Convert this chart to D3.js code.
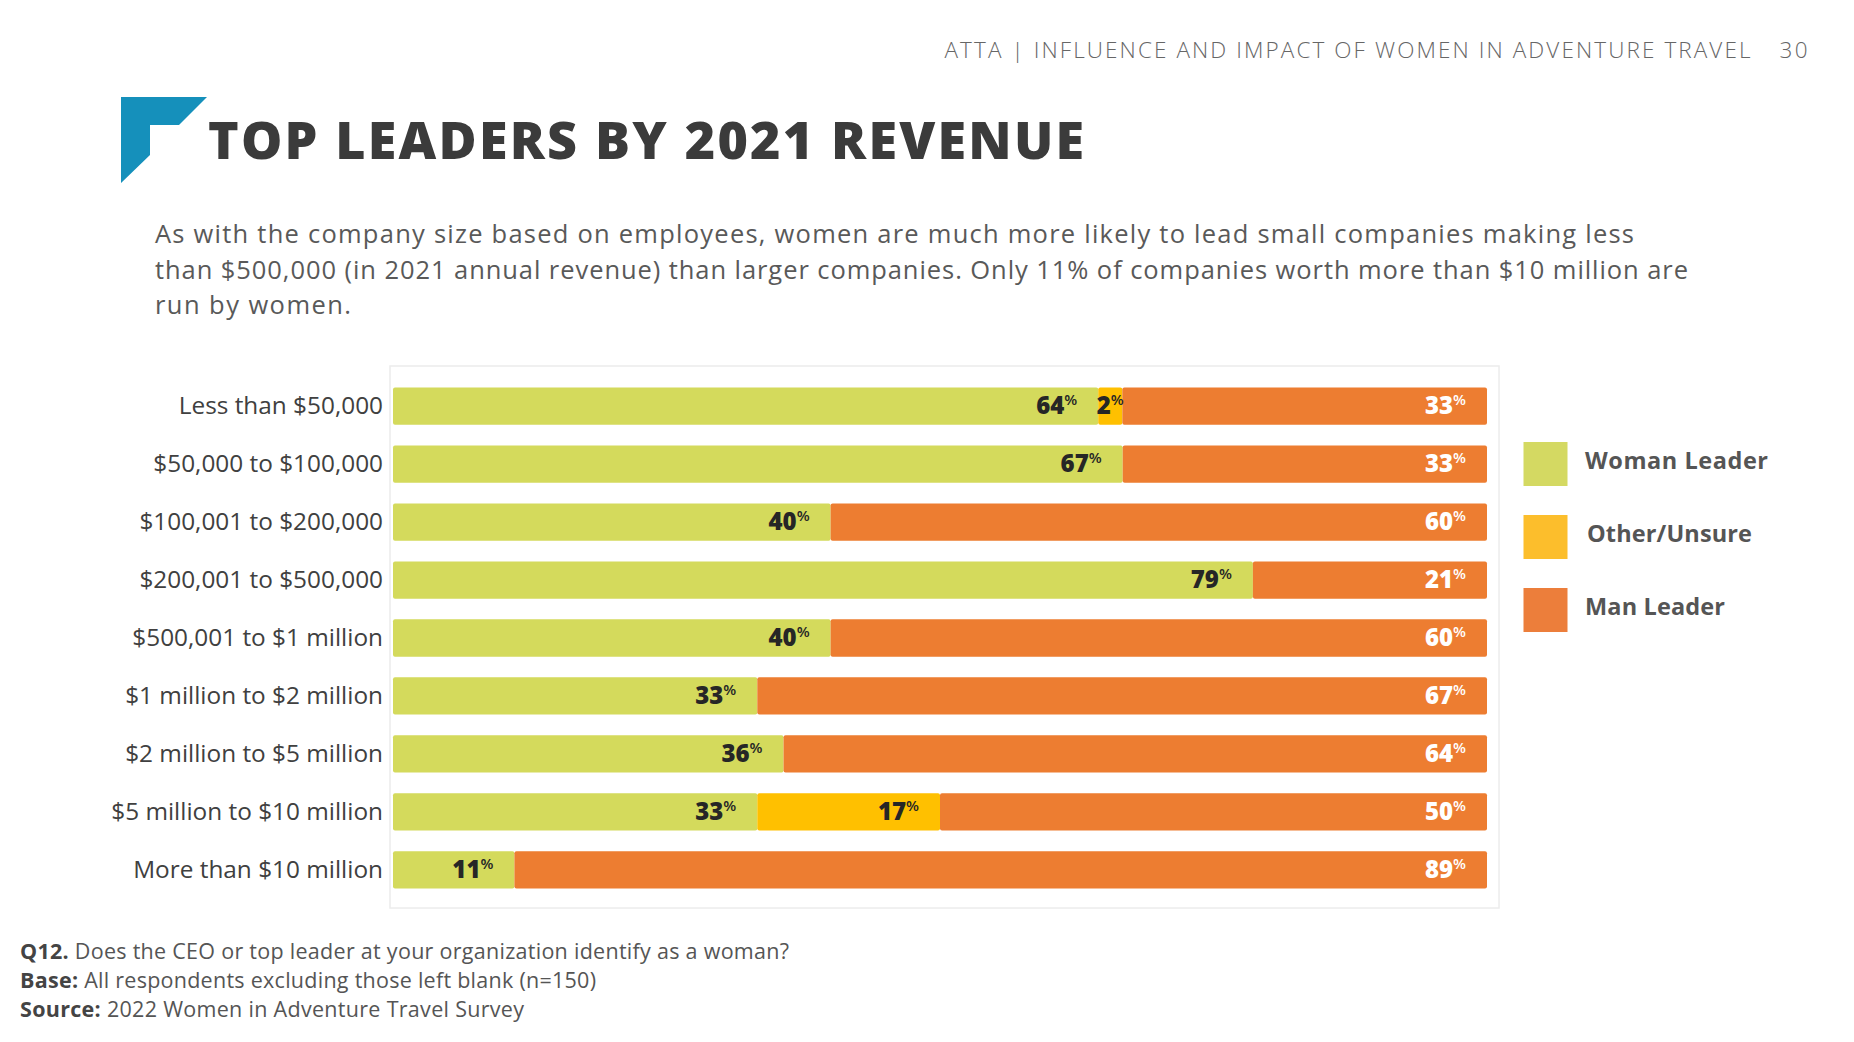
<!DOCTYPE html>
<html><head><meta charset="utf-8">
<script src="https://cdn.jsdelivr.net/npm/d3@7"></script>
<style>
body{margin:0;background:#fff;}
svg{display:block;}
text{font-family:'Open Sans','Noto Sans','DejaVu Sans',sans-serif;}
</style>
</head><body>
<svg id="c" width="1854" height="1042"></svg>
<script>
// ---------- data (shares in %; labels show rounded values) ----------
const categories = [
  "Less than $50,000",
  "$50,000 to $100,000",
  "$100,001 to $200,000",
  "$200,001 to $500,000",
  "$500,001 to $1 million",
  "$1 million to $2 million",
  "$2 million to $5 million",
  "$5 million to $10 million",
  "More than $10 million"
];
const womanLeader = [64.4, 66.7, 40, 78.6, 40, 33.3, 35.7, 33.3, 11.1];
const otherUnsure = [2.2, 0, 0, 0, 0, 0, 0, 16.7, 0];
const manLeader   = [33.3, 33.3, 60, 21.4, 60, 66.7, 64.3, 50, 88.9];
const seriesNames = ["Woman Leader", "Other/Unsure", "Man Leader"];

const headerText = "ATTA | INFLUENCE AND IMPACT OF WOMEN IN ADVENTURE TRAVEL";
const pageNumber = "30";
const titleText = "TOP LEADERS BY 2021 REVENUE";
const introLines = [
  "As with the company size based on employees, women are much more likely to lead small companies making less",
  "than $500,000 (in 2021 annual revenue) than larger companies. Only 11% of companies worth more than $10 million are",
  "run by women."
];
const footnotes = [
  ["Q12.", " Does the CEO or top leader at your organization identify as a woman?"],
  ["Base:", " All respondents excluding those left blank (n=150)"],
  ["Source:", " 2022 Women in Adventure Travel Survey"]
];

// ---------- setup ----------
const svg = d3.select("#c");
const barColor = d3.scaleOrdinal().domain(seriesNames).range(["#D4DA5C", "#FFC000", "#ED7D31"]);
const legendColor = d3.scaleOrdinal().domain(seriesNames).range(["#D4D962", "#FCBE2C", "#EC7E3B"]);
const labelColor = d3.scaleOrdinal().domain(seriesNames).range(["#262626", "#262626", "#ffffff"]);

function fitSize(str, weight, target) {
  const t = svg.append("text").attr("font-size", 100).attr("font-weight", weight).text(str);
  const w = t.node().getComputedTextLength();
  t.remove();
  return 100 * target / w;
}

// ---------- header ----------
svg.append("text").attr("x", 944.5).attr("y", 58).attr("font-size", 22.5).attr("font-weight", 300)
  .attr("fill", "#666").attr("textLength", 806).attr("lengthAdjust", "spacing").text(headerText);
svg.append("text").attr("x", 1779.5).attr("y", 58).attr("font-size", 22.5).attr("font-weight", 300)
  .attr("fill", "#666").attr("textLength", 28).attr("lengthAdjust", "spacing").text(pageNumber);

// logo
svg.append("polygon")
  .attr("points", [[121,97],[207,97],[179,125],[150,125],[150,155],[121,183]].map(p => p.join(",")).join(" "))
  .attr("fill", "#1590BB");

// title
svg.append("text").attr("x", 208).attr("y", 159).attr("font-size", 52).attr("font-weight", 800)
  .attr("fill", "#3b3b3b").attr("textLength", 876).attr("lengthAdjust", "spacing").text(titleText);

// intro paragraph
const introWidths = [1479, 1533, 196];
introLines.forEach((l, i) => {
  svg.append("text").attr("x", 155).attr("y", 243 + i * 35.5).attr("font-size", 25.5)
    .attr("fill", "#595959").attr("textLength", introWidths[i]).attr("lengthAdjust", "spacing").text(l);
});

// ---------- chart ----------
svg.append("rect").attr("x", 390).attr("y", 366).attr("width", 1109).attr("height", 542)
  .attr("fill", "#fff").attr("stroke", "#ececec").attr("stroke-width", 1.5);

const table = categories.map((c, i) => ({
  category: c,
  "Woman Leader": womanLeader[i],
  "Other/Unsure": otherUnsure[i],
  "Man Leader": manLeader[i],
  total: womanLeader[i] + otherUnsure[i] + manLeader[i]
}));

const stack = d3.stack().keys(seriesNames).value((d, k) => d[k] / d.total * 100);
const stacked = stack(table);

const x = d3.scaleLinear().domain([0, 100]).range([393, 1487]);
const y = d3.scaleBand().domain(categories).range([377, 377 + 9 * 58]).paddingInner(0.357).paddingOuter(0.18);

const g = svg.append("g");
const layers = g.selectAll("g.layer").data(stacked).join("g").attr("class", "layer")
  .attr("fill", d => barColor(d.key));
layers.selectAll("rect").data(d => d.map(v => Object.assign(v, {key: d.key}))).join("rect")
  .filter(d => d[1] - d[0] > 0)
  .attr("x", d => x(d[0]))
  .attr("y", d => y(d.data.category))
  .attr("width", d => x(d[1]) - x(d[0]))
  .attr("height", y.bandwidth())
  .attr("rx", 2);

// category labels
const catSize = fitSize("More than $10 million", 400, 250);
g.selectAll("text.cat").data(categories).join("text").attr("class", "cat")
  .attr("x", 383).attr("y", d => y(d) + y.bandwidth() / 2 + 8)
  .attr("text-anchor", "end").attr("font-size", catSize).attr("fill", "#404040").text(d => d);

// value labels
const segs = [];
stacked.forEach(layer => layer.forEach(d => {
  const v = d.data[layer.key];
  if (v > 0) segs.push({key: layer.key, v, x0: x(d[0]), x1: x(d[1]), cat: d.data.category});
}));
segs.forEach(s => {
  const t = g.append("text").attr("font-weight", 800).attr("fill", labelColor(s.key))
    .attr("y", y(s.cat) + y.bandwidth() / 2 + 8).attr("text-anchor", "end");
  t.append("tspan").attr("font-size", 24).text(Math.round(s.v));
  t.append("tspan").attr("font-size", 15).attr("font-weight", 600).attr("dy", -9).text("%");
  const w = t.node().getComputedTextLength();
  const gap = 21;
  let xe;
  if (s.x1 - s.x0 < w + gap + 4) xe = (s.x0 + s.x1) / 2 + w / 2;
  else xe = s.x1 - gap;
  t.attr("x", xe);
});

// ---------- legend ----------
const legendWidths = [183, 165, 140];
const lg = svg.append("g");
seriesNames.forEach((n, i) => {
  const yy = 442 + i * 73;
  lg.append("rect").attr("x", 1523.5).attr("y", yy).attr("width", 44).attr("height", 44)
    .attr("fill", legendColor(n));
  lg.append("text").attr("x", 1585 + (i === 1 ? 2 : 0)).attr("y", yy + 27).attr("font-size", 23.5)
    .attr("font-weight", 700).attr("fill", "#555")
    .attr("textLength", legendWidths[i]).attr("lengthAdjust", "spacing").text(n);
});

// ---------- footnotes ----------
const footWidths = [769, 576, 504];
footnotes.forEach((f, i) => {
  const t = svg.append("text").attr("x", 20).attr("y", 959 + i * 29).attr("font-size", 21.5)
    .attr("fill", "#555").attr("textLength", footWidths[i]).attr("lengthAdjust", "spacing");
  t.append("tspan").attr("font-weight", 700).attr("fill", "#444").text(f[0]);
  t.append("tspan").text(f[1]);
});
</script>
</body></html>
